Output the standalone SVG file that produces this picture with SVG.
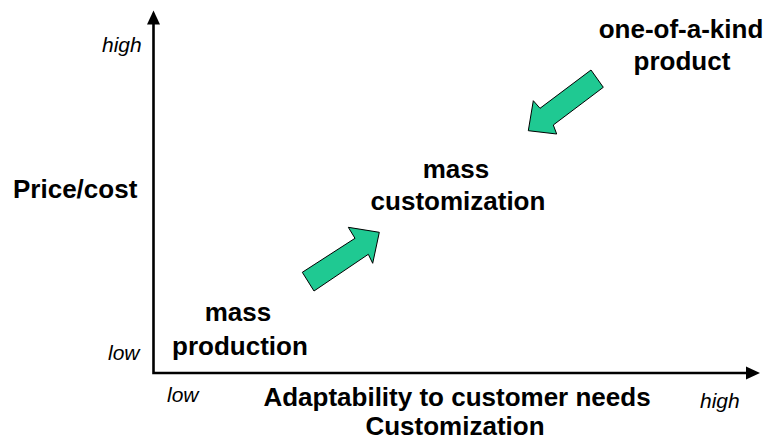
<svg xmlns="http://www.w3.org/2000/svg" width="768" height="442" viewBox="0 0 768 442">
  <style>
    .lbl { font-family: "Liberation Sans", Arial, sans-serif; font-weight: bold; font-size: 26px; fill: #000; }
    .tick { font-family: "Liberation Sans", Arial, sans-serif; font-style: italic; font-size: 21px; fill: #000; }
    .axis { stroke: #000; stroke-width: 2.6; fill: none; }
    .head { fill: #000; }
    .move { fill: #1fc992; stroke: #000; stroke-width: 1; stroke-linejoin: miter; }
  </style>
  <rect width="768" height="442" fill="#fff"/>

  <!-- axes -->
  <g id="axes">
    <polyline class="axis" points="153.5,22 153.5,373 748,373"/>
    <polygon class="head" points="153.5,10.5 147,24.5 160,24.5"/>
    <polygon class="head" points="760,373 746,366.5 746,379.5"/>
  </g>

  <!-- axis titles and scale words -->
  <g id="y-axis-labels">
    <text class="lbl" x="13" y="198">Price/cost</text>
    <text class="tick" x="102" y="52">high</text>
    <text class="tick" x="108" y="360">low</text>
  </g>
  <g id="x-axis-labels">
    <text class="tick" x="167" y="402">low</text>
    <text class="tick" x="700" y="408">high</text>
    <text class="lbl" x="457" y="406" text-anchor="middle">Adaptability to customer needs</text>
    <text class="lbl" x="455" y="435" text-anchor="middle">Customization</text>
  </g>

  <!-- production modes -->
  <g id="mass-production">
    <text class="lbl" x="238" y="321" text-anchor="middle">mass</text>
    <text class="lbl" x="240" y="355" text-anchor="middle">production</text>
  </g>
  <g id="mass-customization">
    <text class="lbl" x="456" y="178" text-anchor="middle">mass</text>
    <text class="lbl" x="458" y="210" text-anchor="middle">customization</text>
  </g>
  <g id="one-of-a-kind">
    <text class="lbl" x="681" y="38" text-anchor="middle">one-of-a-kind</text>
    <text class="lbl" x="682" y="70" text-anchor="middle">product</text>
  </g>

  <!-- block arrows -->
  <g id="connectors">
    <polygon class="move" points="302.3,272.3 355,238.3 348.3,227.3 379.3,232.3 372.7,263.3 368.3,254.3 314,291"/>
    <polygon class="move" points="591,70 603.3,87.3 553.3,125 556.7,134 528.3,130.7 533.3,100.7 540,108.3"/>
  </g>
</svg>
